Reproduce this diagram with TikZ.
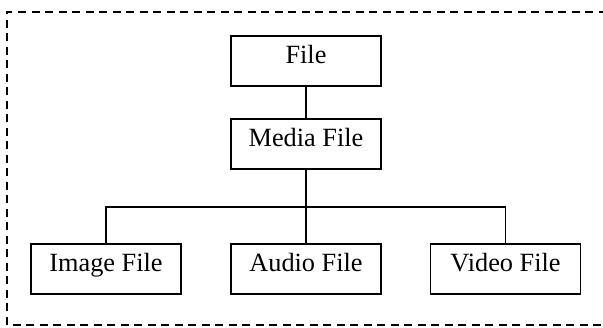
\documentclass[tikz,border=0pt]{standalone}
\usepackage{fontspec}
\setmainfont{Liberation Serif}
\begin{document}
\begin{tikzpicture}[x=1pt, y=1pt,
    filebox/.style={draw, line width=1.3pt, minimum width=150pt, minimum height=50pt,
        inner sep=0pt, text height=13.5pt, text depth=7.5pt, font=\fontsize{26.3}{31}\selectfont},
    link/.style={line width=1.1pt}]
    % Frame
    \useasboundingbox (0,0) rectangle (603,328);
    \draw[dashed, line width=1.1pt, dash pattern=on 8pt off 5.5pt] (7,3) rectangle (612,316);

    % Boxes
    \node[filebox] (file) at (306,267) {File};
    \node[filebox] (media) at (306,184) {Media File};
    \node[filebox] (image) at (106,59) {Image File};
    \node[filebox] (audio) at (306,59) {Audio File};
    \node[filebox] (video) at (505.5,59) {Video File};
    \coordinate (bus) at (306,121);

    % Links
    \draw[link] (file) -- (media);
    \draw[line width=1.5pt] (media) -- (bus);
    \draw[link] (bus) -- (audio);
    \draw[line width=1.4pt] (image.north) |- (bus) -| (video.north);
\end{tikzpicture}
\end{document}
